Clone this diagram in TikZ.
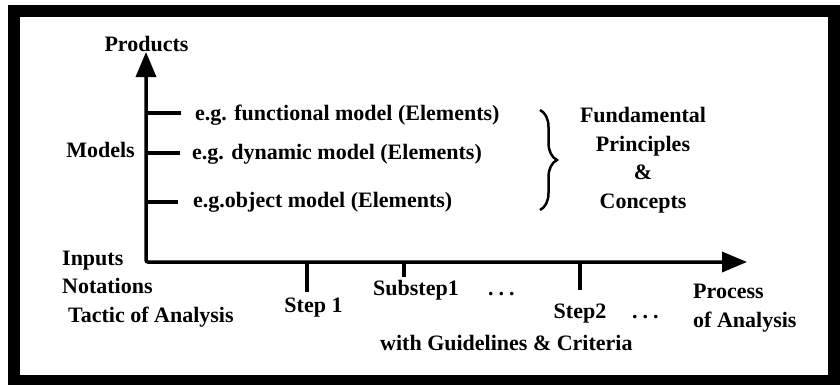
\documentclass[tikz,border=0pt]{standalone}
\usepackage{fontspec}
\setmainfont{Liberation Serif}
\usetikzlibrary{positioning, arrows.meta, decorations.pathreplacing}

\begin{document}
\begin{tikzpicture}[
    x=1pt, y=1pt,
    every node/.style={font=\fontsize{22}{28.5}\selectfont\bfseries, inner sep=0pt},
    txt/.style={anchor=base west},
    axis/.style={{Triangle[length=25pt,width=20pt]}-{Triangle[length=25pt,width=20pt]}, line width=3.5pt, rounded corners=2pt},
    tick/.style={line width=3.5pt},
    frame/.style={line width=12pt},
    curly/.style={decorate, decoration={brace, amplitude=17pt}, line width=2.5pt},
]
    \useasboundingbox (0,0) rectangle (840,384);
    \draw[frame] (14,3) rectangle (833.5,373);

    % --- axes ---
    \coordinate (origin) at (146,122);
    \coordinate (ytop) at (146,332);
    \coordinate (xend) at (747,122);
    \draw[axis] (ytop) -- (origin) -- (xend);

    % --- products side ---
    \node[anchor=base] (products) at (146.5,333) {Products};
    \node[anchor=base east] (models) at (135,227) {Models};
    \node[txt] (funcmod) at (195,264) {e.g. functional model (Elements)};
    \node[txt] (dynmod) at (192,225) {e.g. dynamic model (Elements)};
    \node[txt] (objmod) at (193,177) {e.g.object model (Elements)};
    \foreach \n/\x/\y in {fm/181/271, dm/180/231, om/178/182}{
        \coordinate (\n0) at (146,\y);
        \coordinate (\n1) at (\x,\y);
        \draw[tick] (\n0) -- (\n1);
    }

    % --- principles ---
    \coordinate (btop) at (540,274);
    \coordinate (bbot) at (540,174);
    \draw[curly] (btop) -- (bbot);
    \node[align=center, anchor=base] (principles) at (643,176) {Fundamental\\Principles\\\&\\Concepts};

    % --- process side ---
    \node[align=left, anchor=base west] (inputs) at (62,62) {Inputs\\Notations\\\hspace{6pt}Tactic of Analysis};
    \foreach \n/\x/\y in {s1/307/92, ss/404/107, s2/580/94}{
        \coordinate (\n0) at (\x,122);
        \coordinate (\n1) at (\x,\y);
        \draw[tick] (\n0) -- (\n1);
    }
    \node[anchor=base] (step1) at (313.5,72) {Step 1};
    \node[txt] (substep) at (373,89) {Substep1};
    \node[txt] (dotsa) at (488,89) {.\kern5pt.\kern5pt.};
    \node[anchor=base] (step2) at (580,66) {Step2};
    \node[txt] (dotsb) at (632,66) {.\kern5pt.\kern5pt.};
    \node[align=left, anchor=base west] (process) at (693,57) {Process\\of Analysis};
    \node[txt] (guide) at (380,34) {with Guidelines \& Criteria};

\end{tikzpicture}
\end{document}
